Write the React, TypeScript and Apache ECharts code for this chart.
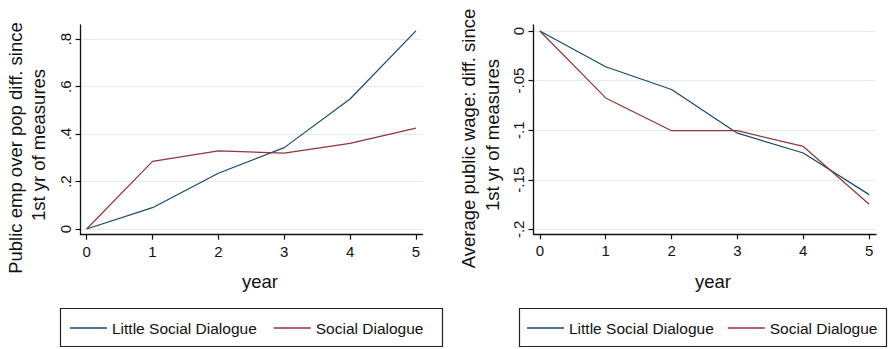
import React, { useEffect, useRef } from "react";
import * as echarts from "echarts";

const years = [0, 1, 2, 3, 4, 5];
const empLittle = [0, 0.09, 0.235, 0.343, 0.548, 0.835];
const empSocial = [0, 0.285, 0.329, 0.32, 0.361, 0.425];
const wageLittle = [0, -0.036, -0.059, -0.103, -0.123, -0.165];
const wageSocial = [0, -0.0675, -0.1005, -0.1005, -0.1164, -0.1747];

const empTicks = [0, 0.2, 0.4, 0.6, 0.8];
const wageTicks = [0, -0.05, -0.1, -0.15, -0.2];
const seriesNames = ["Little Social Dialogue", "Social Dialogue"];
const leftTitle = ["Public emp over pop diff. since", "1st yr of measures"];
const rightTitle = ["Average public wage: diff. since", "1st yr of measures"];
const xTitle = "year";

const NAVY = "#1a476f";
const MAROON = "#90353b";
const FONT = "'Liberation Sans', Arial, Helvetica, sans-serif";

const fmt = (v: number) => {
  if (Math.abs(v) < 1e-9) return "0";
  const s = String(Math.round(v * 1000) / 1000);
  return s.replace("0.", ".");
};

export default function App() {
  const ref = useRef<HTMLDivElement>(null);
  useEffect(() => {
    if (!ref.current) return;
    const chart = echarts.init(ref.current, null, { renderer: "svg" });
    const axisLine = { show: true, onZero: false, lineStyle: { color: "#111", width: 1.3 } };
    const axisTickX = { show: true, length: 5, inside: false, lineStyle: { color: "#111", width: 1.2 }, customValues: years };
    const xLabel = { show: true, fontSize: 15, color: "#111", fontFamily: FONT, margin: 9, customValues: years };
    const mkY = (gi: number, min: number, max: number, ticks: number[]) => ({
      type: "value",
      gridIndex: gi,
      min,
      max,
      axisLine,
      axisTick: { show: true, length: 5, inside: false, lineStyle: { color: "#111", width: 1.2 }, customValues: ticks },
      axisLabel: {
        show: true,
        rotate: 90,
        fontSize: 15,
        color: "#111",
        fontFamily: FONT,
        margin: 8,
        customValues: ticks,
        formatter: (v: number) => fmt(v),
      },
      splitLine: { show: true, lineStyle: { color: "#e4eced", width: 1.2 } },
    });
    const mkX = (gi: number, min: number, max: number) => ({
      type: "value",
      gridIndex: gi,
      min,
      max,
      axisLine,
      axisTick: axisTickX,
      axisLabel: { ...xLabel, formatter: (v: number) => String(v) },
      splitLine: { show: false },
    });
    const line = (name: string, color: string, arr: number[], gi: number) => ({
      type: "line",
      name,
      xAxisIndex: gi,
      yAxisIndex: gi,
      data: years.map((y, i) => [y, arr[i]]),
      showSymbol: false,
      symbol: "none",
      color,
      lineStyle: { color, width: 1.2 },
      silent: true,
    });
    const titleText = (x: number, y: number, text: string, rot = 0) => ({
      type: "text",
      x,
      y,
      rotation: rot,
      style: {
        text,
        fill: "#111",
        font: `18.5px ${FONT}`,
        align: "center",
        verticalAlign: "middle",
      },
    });
    const legendBase = {
      orient: "horizontal",
      padding: 0,
      icon: "rect",
      itemWidth: 37,
      itemHeight: 1.3,
      itemStyle: { borderWidth: 0 },
      textStyle: { fontSize: 15.5, color: "#111", fontFamily: FONT },
      data: seriesNames,
      selectedMode: false,
    };
    chart.setOption({
      animation: false,
      backgroundColor: "#fff",
      grid: [
        { left: 80.5, top: 25, width: 342, height: 209.7, containLabel: false },
        { left: 533.5, top: 25, width: 342.5, height: 209.3, containLabel: false },
      ],
      xAxis: [mkX(0, -0.093, 5.1), mkX(1, -0.096, 5.104)],
      yAxis: [mkY(0, -0.024, 0.86, empTicks), mkY(1, -0.205, 0.00605, wageTicks)],
      legend: [
        { ...legendBase, left: 70, top: 320, itemGap: 17 },
        { ...legendBase, left: 527, top: 320, itemGap: 14 },
      ],
      graphic: [
        titleText(15.5, 148, leftTitle[0], Math.PI / 2),
        titleText(38, 145, leftTitle[1], Math.PI / 2),
        titleText(468, 138.5, rightTitle[0], Math.PI / 2),
        titleText(492, 135, rightTitle[1], Math.PI / 2),
        titleText(260, 281, xTitle),
        titleText(713, 281, xTitle),
        {
          type: "rect",
          shape: { x: 60.5, y: 308.5, width: 382, height: 38 },
          style: { fill: "none", stroke: "#222", lineWidth: 1.2 },
        },
        {
          type: "rect",
          shape: { x: 519.5, y: 308.5, width: 367, height: 38 },
          style: { fill: "none", stroke: "#222", lineWidth: 1.2 },
        },
      ],
      series: [
        line(seriesNames[0], NAVY, empLittle, 0),
        line(seriesNames[1], MAROON, empSocial, 0),
        line(seriesNames[0], NAVY, wageLittle, 1),
        line(seriesNames[1], MAROON, wageSocial, 1),
      ],
    });
    return () => chart.dispose();
  }, []);
  return (
    <div
      ref={ref}
      style={{ position: "fixed", left: 0, top: 0, width: 889, height: 349, background: "#fff" }}
    />
  );
}
